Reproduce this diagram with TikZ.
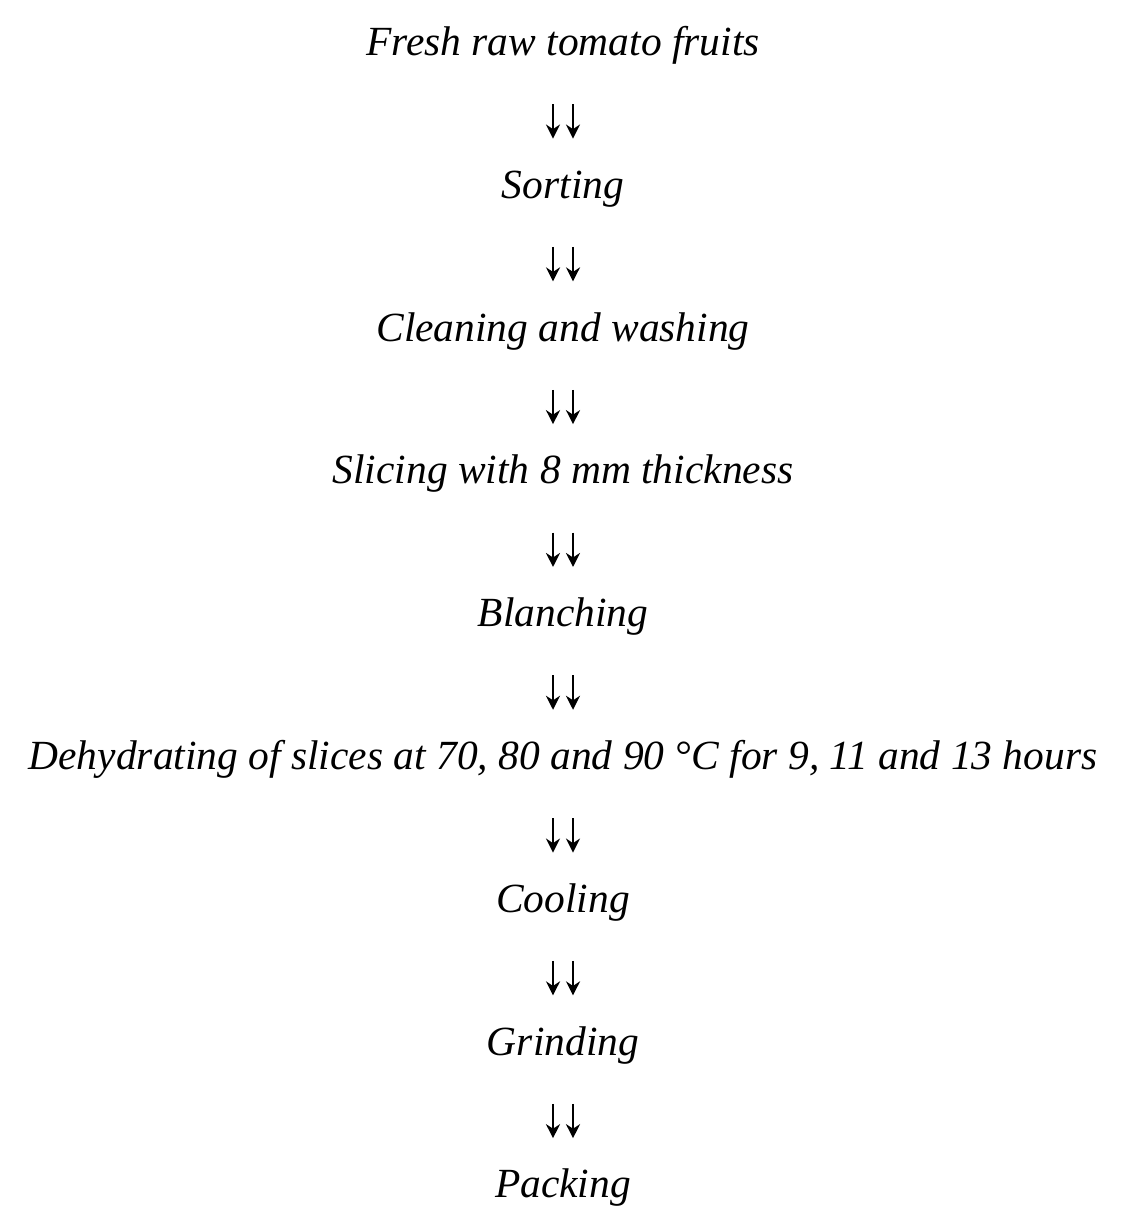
\documentclass[tikz,border=0pt]{standalone}
\usepackage{fontspec}
\setmainfont{Liberation Serif}
\usetikzlibrary{arrows.meta}

\tikzset{
  stage/.style={font=\fontsize{11.8}{14}\selectfont\itshape, inner sep=0pt,
    text height=0.25cm, text depth=0.1cm},
  flow/.style={-{Stealth[length=1.4mm,width=1.4mm]}, line width=0.8pt,
    shorten <=0.38cm, shorten >=0.34cm}
}

\begin{document}
\begin{tikzpicture}
\useasboundingbox (0,0) rectangle (11.34,12.28);

% Stages
\foreach \i/\label in {1/Fresh raw tomato fruits,2/Sorting,3/Cleaning and washing,
  4/Slicing with 8 mm thickness,5/Blanching,
  6/{Dehydrating of slices at 70, 80 and 90 °C for 9, 11 and 13 hours},
  7/Cooling,8/Grinding,9/Packing} {
  \node[stage] (s\i) at (5.63,{11.80-1.428*(\i-1)}) {\label};
}

% Double arrows
\foreach \i [evaluate=\i as \j using int(\i+1)] in {1,...,8} {
  \draw[flow] ([xshift=-0.1cm]s\i.south) -- ([xshift=-0.1cm]s\j.north);
  \draw[flow] ([xshift=0.1cm]s\i.south) -- ([xshift=0.1cm]s\j.north);
}
\end{tikzpicture}
\end{document}
